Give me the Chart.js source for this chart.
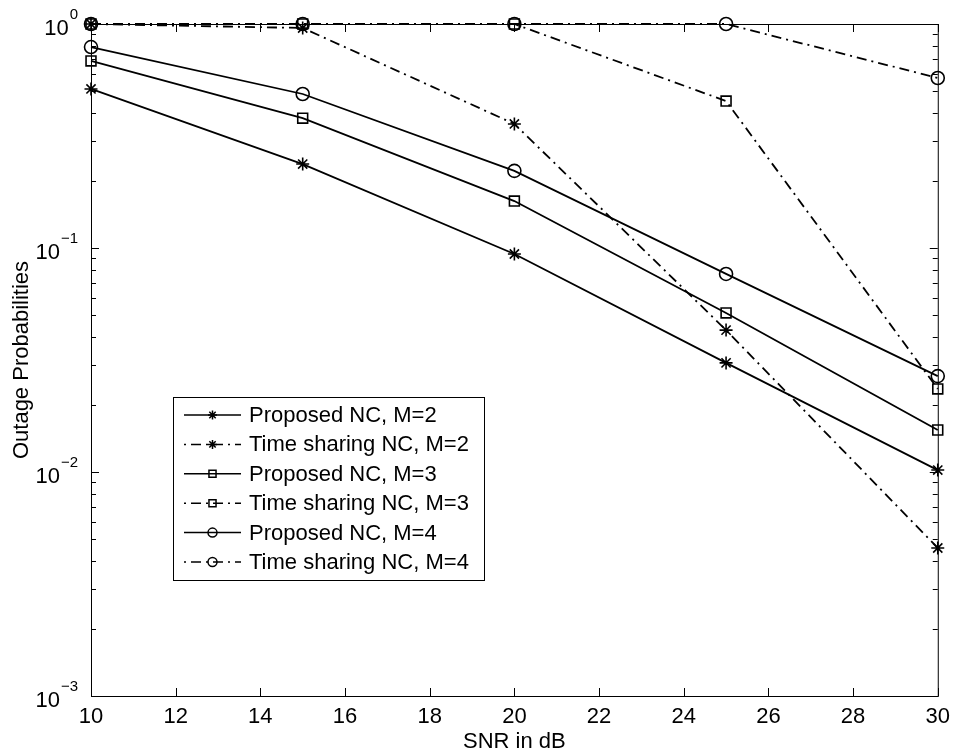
<!DOCTYPE html>
<html>
<head>
<meta charset="utf-8">
<script src="https://cdn.jsdelivr.net/npm/chart.js@4.4.0/dist/chart.umd.min.js"></script>
<style>
  html, body { margin: 0; padding: 0; background: #fff; }
  #wrap { width: 958px; height: 754px; }
</style>
</head>
<body>
<div id="wrap"><canvas id="chart" width="958" height="754"></canvas></div>
<script>
// SNR points (dB)
const snr = [10, 15, 20, 25, 30];

// outage probabilities
const proposedM2 = [0.513, 0.237, 0.094, 0.0307, 0.0102];
const sharingM2  = [1, 0.96, 0.358, 0.043, 0.00458];
const proposedM3 = [0.684, 0.38, 0.162, 0.0513, 0.0154];
const sharingM3  = [1, 1, 1, 0.453, 0.0235];
const proposedM4 = [0.789, 0.487, 0.221, 0.0766, 0.0268];
const sharingM4  = [1, 1, 1, 1, 0.574];

// tick labels
const xTicks = [10, 12, 14, 16, 18, 20, 22, 24, 26, 28, 30];
const yTicks = [0.001, 0.01, 0.1, 1];
const yTickExp = ['\u22123', '\u22122', '\u22121', '0'];

const FONT = '"Liberation Sans", Arial, Helvetica, sans-serif';
const DASH_DOT = [10, 5, 2, 5];

function makeSet(label, values, style, dashed) {
  return {
    label: label,
    data: snr.map((x, i) => ({ x: x, y: values[i] })),
    borderColor: '#000',
    backgroundColor: 'rgba(0,0,0,0)',
    borderWidth: 1.8,
    borderDash: dashed ? DASH_DOT : [],
    pointStyle: style,
    pointRadius: style === 'rect' ? 7 : (style === 'star' ? 6.5 : 6.5),
    pointBorderWidth: 1.6,
    pointBorderColor: '#000',
    pointBackgroundColor: 'rgba(0,0,0,0)',
    tension: 0,
    clip: false
  };
}

const datasets = [
  makeSet('Proposed NC, M=2', proposedM2, 'star', false),
  makeSet('Time sharing NC, M=2', sharingM2, 'star', true),
  makeSet('Proposed NC, M=3', proposedM3, 'rect', false),
  makeSet('Time sharing NC, M=3', sharingM3, 'rect', true),
  makeSet('Proposed NC, M=4', proposedM4, 'circle', false),
  makeSet('Time sharing NC, M=4', sharingM4, 'circle', true)
];

function seg(ctx, x1, y1, x2, y2) {
  ctx.beginPath();
  ctx.moveTo(x1, y1);
  ctx.lineTo(x2, y2);
  ctx.stroke();
}

// frame, inward ticks, log labels, titles and the boxed legend (MATLAB look)
const matlabAxes = {
  id: 'matlabAxes',
  afterDraw(chart) {
    const { ctx, chartArea: a, scales } = chart;
    const xs = scales.x, ys = scales.y;
    ctx.save();
    ctx.strokeStyle = '#000';
    ctx.fillStyle = '#000';
    ctx.lineWidth = 1;
    ctx.setLineDash([]);
    ctx.strokeRect(a.left + 0.5, a.top + 0.5, a.right - a.left, a.bottom - a.top);

    xTicks.forEach(v => {
      const px = Math.round(xs.getPixelForValue(v)) + 0.5;
      seg(ctx, px, a.bottom, px, a.bottom - 8);
      seg(ctx, px, a.top, px, a.top + 8);
    });

    for (let d = 0; d < yTicks.length; d++) {
      const base = yTicks[d];
      const py = Math.round(ys.getPixelForValue(base)) + 0.5;
      seg(ctx, a.left, py, a.left + 8, py);
      seg(ctx, a.right, py, a.right - 8, py);
      if (d < yTicks.length - 1) {
        for (let m = 2; m <= 9; m++) {
          const my = Math.round(ys.getPixelForValue(base * m)) + 0.5;
          seg(ctx, a.left, my, a.left + 5, my);
          seg(ctx, a.right, my, a.right - 5, my);
        }
      }
      // "10" with superscript exponent
      ctx.font = '15px ' + FONT;
      const expW = ctx.measureText(yTickExp[d]).width;
      ctx.textBaseline = 'alphabetic';
      ctx.textAlign = 'left';
      const expX = a.left - 13 - expW;
      ctx.fillText(yTickExp[d], expX, py - 6);
      ctx.font = '22px ' + FONT;
      ctx.textAlign = 'right';
      ctx.textBaseline = 'middle';
      ctx.fillText('10', expX - 1, py + 4);
    }

    // axis titles
    ctx.font = '22px ' + FONT;
    ctx.textAlign = 'center';
    ctx.textBaseline = 'middle';
    ctx.fillText('SNR in dB', (a.left + a.right) / 2, 742);
    ctx.save();
    ctx.translate(22, (a.top + a.bottom) / 2);
    ctx.rotate(-Math.PI / 2);
    ctx.fillText('Outage Probabilities', 0, 0);
    ctx.restore();

    // legend box
    const lx = 173, ly = 397, lw = 311, lh = 183;
    ctx.fillStyle = '#fff';
    ctx.fillRect(lx, ly, lw, lh);
    ctx.strokeRect(lx + 0.5, ly + 0.5, lw, lh);
    chart.data.datasets.forEach((ds, i) => {
      const ry = ly + 18 + i * 29.4;
      ctx.strokeStyle = '#000';
      ctx.lineWidth = 1.5;
      ctx.setLineDash(ds.borderDash);
      ctx.lineDashOffset = ds.borderDash.length ? 15 : 0;
      seg(ctx, 184, ry, 241, ry);
      ctx.setLineDash([]);
      ctx.fillStyle = 'rgba(0,0,0,0)';
      Chart.helpers.drawPoint(ctx, {
        pointStyle: ds.pointStyle,
        radius: ds.pointRadius - 2,
        borderWidth: 1.5,
        rotation: 0
      }, 212.5, ry);
      ctx.fillStyle = '#000';
      ctx.font = '22px ' + FONT;
      ctx.textAlign = 'left';
      ctx.textBaseline = 'middle';
      ctx.fillText(ds.label, 249, ry + 1);
    });
    ctx.restore();
  }
};

new Chart(document.getElementById('chart'), {
  type: 'line',
  data: { datasets: datasets },
  options: {
    responsive: false,
    devicePixelRatio: 1,
    animation: false,
    layout: { padding: { left: 0, right: 15, top: 24, bottom: 0 } },
    plugins: {
      legend: { display: false },
      tooltip: { enabled: false }
    },
    scales: {
      x: {
        type: 'linear',
        min: 10,
        max: 30,
        afterBuildTicks: s => { s.ticks = xTicks.map(v => ({ value: v })); },
        afterFit: s => { s.height = 58; },
        grid: { display: false, drawTicks: false },
        border: { display: false },
        ticks: {
          color: '#000',
          font: { family: FONT, size: 22 },
          padding: 8,
          maxRotation: 0,
          autoSkip: false
        }
      },
      y: {
        type: 'logarithmic',
        min: 0.001,
        max: 1,
        afterBuildTicks: s => { s.ticks = yTicks.map(v => ({ value: v })); },
        afterFit: s => { s.width = 91; },
        grid: { display: false, drawTicks: false },
        border: { display: false },
        ticks: { display: false }
      }
    }
  },
  plugins: [matlabAxes]
});
</script>
</body>
</html>
